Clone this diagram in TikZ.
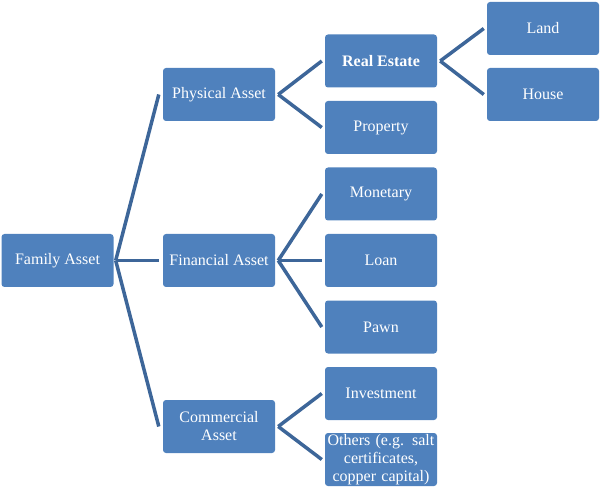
\documentclass[tikz,border=0pt]{standalone}
\usepackage{fontspec}
\setmainfont{Liberation Serif}
\usetikzlibrary{calc}
\definecolor{boxblue}{RGB}{79,129,189}
\definecolor{lineblue}{RGB}{61,102,153}
\begin{document}
\begin{tikzpicture}[x=1pt,y=-1pt,
  assetbox/.style={draw=none, fill=boxblue, rounded corners=3pt, minimum width=112pt, minimum height=53pt, text=white, font=\fontsize{16}{18}\selectfont, align=center, inner sep=1pt},
  link/.style={draw=lineblue, line width=3.5pt}]
\useasboundingbox (0,0) rectangle (600,489);
\node[assetbox] (family) at (57.5,260.5) {Family Asset};
\node[assetbox] (phys) at (219,94.5) {Physical Asset};
\node[assetbox] (fin) at (219,260.5) {Financial Asset};
\node[assetbox] (com) at (219,426.5) {Commercial\\Asset};
\node[assetbox] (re) at (381,61) {\textbf{Real Estate}};
\node[assetbox] (prop) at (381,127.5) {Property};
\node[assetbox] (mon) at (381,194) {Monetary};
\node[assetbox] (loan) at (381,260.5) {Loan};
\node[assetbox] (pawn) at (381,327) {Pawn};
\node[assetbox] (inv) at (381,393.5) {Investment};
\node[assetbox, text width=110pt] (oth) at (381,459.5) {Others (e.g. salt\\certificates,\\copper capital)};
\node[assetbox] (land) at (543,28.5) {Land};
\node[assetbox] (house) at (543,94.5) {House};
\coordinate (fa) at ($(family.east)+(2,0)$);
\foreach \t in {phys,fin,com} \draw[link] (fa) -- ($(\t.west)+(-4,0)$);
\coordinate (pa) at ($(phys.east)+(3,0)$);
\foreach \t in {re,prop} \draw[link] (pa) -- ($(\t.west)+(-3,0)$);
\coordinate (fi) at ($(fin.east)+(3,0)$);
\foreach \t in {mon,loan,pawn} \draw[link] (fi) -- ($(\t.west)+(-3,0)$);
\coordinate (ca) at ($(com.east)+(3,0)$);
\foreach \t in {inv,oth} \draw[link] (ca) -- ($(\t.west)+(-3,0)$);
\coordinate (rea) at ($(re.east)+(3,0)$);
\foreach \t in {land,house} \draw[link] (rea) -- ($(\t.west)+(-3,0)$);
\end{tikzpicture}
\end{document}
